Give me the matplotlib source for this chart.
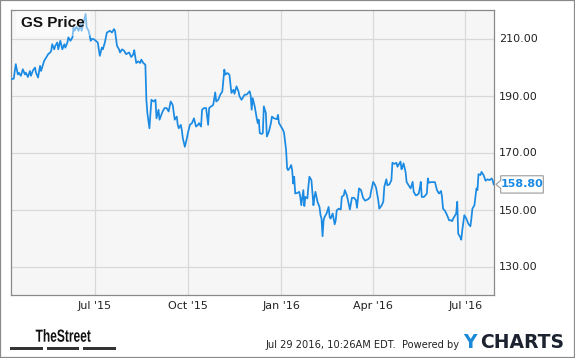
import numpy as np
import pandas as pd
import matplotlib
matplotlib.use('Agg')
import matplotlib.pyplot as plt
from matplotlib.patches import Rectangle, Polygon, PathPatch
from matplotlib.textpath import TextPath
from matplotlib.font_manager import FontProperties
from matplotlib.transforms import IdentityTransform, Affine2D

# GS daily price
dates_2015 = [
    '2015-04-09', '2015-04-12', '2015-04-14', '2015-04-16', '2015-04-17', '2015-04-19', '2015-04-21',
    '2015-04-23', '2015-04-24', '2015-04-26', '2015-04-28', '2015-04-29', '2015-05-01', '2015-05-03',
    '2015-05-04', '2015-05-06', '2015-05-08', '2015-05-09', '2015-05-12', '2015-05-14', '2015-05-16',
    '2015-05-18', '2015-05-19', '2015-05-20', '2015-05-22', '2015-05-23', '2015-05-25', '2015-05-26',
    '2015-05-28', '2015-05-30', '2015-06-01', '2015-06-02', '2015-06-04', '2015-06-05', '2015-06-07',
    '2015-06-09', '2015-06-10', '2015-06-11', '2015-06-13', '2015-06-15', '2015-06-17', '2015-06-18',
    '2015-06-20', '2015-06-22', '2015-06-23', '2015-06-25', '2015-06-27', '2015-06-28', '2015-06-30',
    '2015-07-02', '2015-07-04', '2015-07-06', '2015-07-08', '2015-07-09', '2015-07-11', '2015-07-13',
    '2015-07-16', '2015-07-18', '2015-07-20', '2015-07-21', '2015-07-23', '2015-07-25', '2015-07-26',
    '2015-07-28', '2015-07-30', '2015-08-01', '2015-08-04', '2015-08-06', '2015-08-08', '2015-08-09',
    '2015-08-11', '2015-08-13', '2015-08-15', '2015-08-16', '2015-08-18', '2015-08-20', '2015-08-21',
    '2015-08-22', '2015-08-24', '2015-08-26', '2015-08-28', '2015-08-30', '2015-08-31', '2015-09-02',
    '2015-09-03', '2015-09-06', '2015-09-08', '2015-09-10', '2015-09-12', '2015-09-14', '2015-09-16',
    '2015-09-18', '2015-09-20', '2015-09-21', '2015-09-22', '2015-09-24', '2015-09-25', '2015-09-26',
    '2015-09-28', '2015-09-30', '2015-10-01', '2015-10-03', '2015-10-05', '2015-10-07', '2015-10-09',
    '2015-10-11', '2015-10-12', '2015-10-14', '2015-10-15', '2015-10-17', '2015-10-19', '2015-10-21',
    '2015-10-22', '2015-10-24', '2015-10-26', '2015-10-28', '2015-10-29', '2015-10-31', '2015-11-02',
    '2015-11-04', '2015-11-06', '2015-11-07', '2015-11-09', '2015-11-11', '2015-11-13', '2015-11-15',
    '2015-11-16', '2015-11-18', '2015-11-20', '2015-11-21', '2015-11-23', '2015-11-25', '2015-11-26',
    '2015-11-28', '2015-12-01', '2015-12-02', '2015-12-03', '2015-12-04', '2015-12-06', '2015-12-08',
    '2015-12-09', '2015-12-10', '2015-12-11', '2015-12-13', '2015-12-14', '2015-12-15', '2015-12-17',
    '2015-12-18', '2015-12-20', '2015-12-22', '2015-12-23', '2015-12-25', '2015-12-28', '2015-12-29',
    '2015-12-30',
]
price_2015 = [
    195.7, 195.9, 201.0, 197.4, 198.0, 196.9, 199.2,
    197.4, 198.0, 196.5, 198.6, 196.9, 198.8, 199.8,
    198.0, 196.3, 200.4, 198.6, 202.1, 203.3, 204.5,
    205.1, 205.7, 208.0, 206.2, 207.4, 208.6, 206.2,
    209.2, 206.2, 208.0, 206.8, 208.6, 210.4, 209.2,
    210.4, 213.9, 212.7, 214.1, 212.7, 215.0, 212.7,
    215.6, 218.6, 213.9, 212.7, 209.2, 209.8, 209.8,
    209.2, 208.6, 203.9, 206.8, 206.2, 208.6, 212.1,
    212.7, 212.1, 213.3, 212.7, 207.4, 206.2, 205.1,
    206.2, 205.7, 204.5, 205.1, 203.5, 204.4, 205.9,
    201.4, 202.0, 201.4, 202.6, 201.4, 200.8, 188.5,
    183.8, 178.5, 188.5, 187.9, 188.5, 182.0, 185.0,
    181.5, 184.4, 185.6, 185.6, 184.4, 187.9, 186.7,
    181.5, 182.6, 179.7, 178.5, 179.7, 177.9, 175.0,
    172.0, 175.0, 176.8, 179.7, 180.3, 182.0, 179.1,
    179.7, 180.3, 179.1, 185.0, 185.6, 185.6, 179.7,
    185.6, 186.2, 186.7, 191.1, 187.9, 188.5, 190.3,
    191.4, 199.1, 197.3, 197.9, 197.3, 190.9, 192.0,
    190.6, 193.2, 191.4, 189.7, 188.5, 189.7, 190.3,
    190.3, 191.5, 190.0, 185.0, 189.1, 186.2, 182.0,
    180.3, 181.5, 176.8, 176.5, 176.8, 186.2, 183.8,
    175.6, 177.3, 180.3, 182.6, 182.0, 181.7, 183.2,
    180.3,
]
dates_2016 = [
    '2016-01-01', '2016-01-03', '2016-01-04', '2016-01-06', '2016-01-07', '2016-01-08', '2016-01-10',
    '2016-01-11', '2016-01-12', '2016-01-13', '2016-01-14', '2016-01-15', '2016-01-17', '2016-01-19',
    '2016-01-20', '2016-01-21', '2016-01-23', '2016-01-24', '2016-01-25', '2016-01-27', '2016-01-28',
    '2016-01-29', '2016-01-31', '2016-02-02', '2016-02-03', '2016-02-04', '2016-02-06', '2016-02-08',
    '2016-02-09', '2016-02-10', '2016-02-11', '2016-02-12', '2016-02-13', '2016-02-15', '2016-02-17',
    '2016-02-18', '2016-02-19', '2016-02-21', '2016-02-23', '2016-02-24', '2016-02-25', '2016-02-27',
    '2016-02-29', '2016-03-01', '2016-03-03', '2016-03-04', '2016-03-06', '2016-03-07', '2016-03-09',
    '2016-03-11', '2016-03-13', '2016-03-15', '2016-03-16', '2016-03-18', '2016-03-20', '2016-03-22',
    '2016-03-24', '2016-03-27', '2016-03-29', '2016-03-30', '2016-04-01', '2016-04-03', '2016-04-04',
    '2016-04-06', '2016-04-07', '2016-04-09', '2016-04-11', '2016-04-12', '2016-04-14', '2016-04-15',
    '2016-04-17', '2016-04-19', '2016-04-20', '2016-04-22', '2016-04-24', '2016-04-25', '2016-04-26',
    '2016-04-28', '2016-04-29', '2016-04-30', '2016-05-01', '2016-05-03', '2016-05-04', '2016-05-06',
    '2016-05-08', '2016-05-10', '2016-05-11', '2016-05-13', '2016-05-14', '2016-05-16', '2016-05-17',
    '2016-05-18', '2016-05-19', '2016-05-21', '2016-05-22', '2016-05-24', '2016-05-25', '2016-05-26',
    '2016-05-28', '2016-05-30', '2016-06-01', '2016-06-03', '2016-06-05', '2016-06-07', '2016-06-08',
    '2016-06-09', '2016-06-11', '2016-06-13', '2016-06-15', '2016-06-17', '2016-06-18', '2016-06-19',
    '2016-06-21', '2016-06-22', '2016-06-23', '2016-06-24', '2016-06-26', '2016-06-27', '2016-06-28',
    '2016-06-30', '2016-07-02', '2016-07-04', '2016-07-06', '2016-07-07', '2016-07-08', '2016-07-10',
    '2016-07-12', '2016-07-13', '2016-07-14', '2016-07-16', '2016-07-17', '2016-07-19', '2016-07-21',
    '2016-07-23', '2016-07-25', '2016-07-27', '2016-07-28', '2016-07-29',
]
price_2016 = [
    179.1, 177.9, 176.8, 170.9, 164.4, 163.8, 164.8,
    165.6, 163.8, 159.1, 161.5, 155.6, 155.8, 156.2,
    154.4, 151.5, 156.8, 151.2, 154.4, 153.9, 158.0,
    161.5, 160.3, 151.5, 154.4, 156.2, 152.7, 150.9,
    148.0, 146.8, 140.6, 146.2, 147.4, 148.6, 150.9,
    147.4, 146.8, 148.6, 144.8, 146.2, 149.7, 150.3,
    150.0, 154.4, 155.0, 156.8, 155.0, 153.3, 150.0,
    154.1, 154.1, 153.3, 150.6, 157.4, 156.8, 154.1,
    153.1, 153.6, 154.4, 156.5, 159.7, 158.5, 157.4,
    153.3, 150.3, 151.2, 152.7, 158.0, 160.6, 158.5,
    158.8, 160.3, 166.4, 166.0, 166.4, 165.0, 165.6,
    166.8, 164.1, 165.0, 166.2, 163.2, 159.7, 158.5,
    157.4, 159.7, 156.2, 155.0, 155.0, 155.6, 157.4,
    159.7, 154.4, 154.4, 154.7, 155.6, 160.9, 159.4,
    159.6, 159.6, 159.6, 156.8, 155.6, 156.5, 154.4,
    150.3, 149.5, 148.0, 146.2, 146.2, 145.9, 146.8,
    148.0, 148.6, 152.7, 141.5, 140.3, 139.4, 142.7,
    148.0, 146.8, 145.0, 144.1, 146.8, 150.3, 151.5,
    157.4, 156.8, 162.4, 162.1, 163.2, 162.1, 160.1,
    160.6, 160.3, 160.9, 160.3, 158.8,
]

y_ticks = [130, 150, 170, 190, 210]
x_ticks = ['2015-07-01', '2015-10-01', '2016-01-01', '2016-04-01', '2016-07-01']
x_tick_labels = ["Jul '15", "Oct '15", "Jan '16", "Apr '16", "Jul '16"]
last_price = 158.80

W, H = 575, 358
line_color = '#1a8ae3'

dates = pd.to_datetime(dates_2015 + dates_2016)
prices = np.array(price_2015 + price_2016)

fig = plt.figure(figsize=(W / 100, H / 100), dpi=100)
fig.patch.set_facecolor('white')

# plot area in pixel coords of the reference
left, right, top, bottom = 10.7, 494, 10, 295
ax = fig.add_axes([left / W, 1 - bottom / H, (right - left) / W, (bottom - top) / H])
ax.set_facecolor('#f6f6f6')
ax.plot(dates, prices, color=line_color, lw=1.25, zorder=3)

ax.set_xlim(pd.Timestamp('2015-04-09'), pd.Timestamp('2016-07-29 08:00'))
ax.set_ylim(120, 220)
ax.set_yticks(y_ticks)
ax.set_yticklabels([f'{v:.2f}' for v in y_ticks])
ax.yaxis.tick_right()
ax.set_xticks(pd.to_datetime(x_ticks))
ax.set_xticklabels(x_tick_labels)
ax.tick_params(axis='both', length=0, labelsize=8, colors='#222')
ax.tick_params(axis='y', pad=3.6)
ax.tick_params(axis='x', pad=4.3)
ax.grid(True, color='#d9d9d9', lw=0.9)
ax.set_axisbelow(True)
for s in ax.spines.values():
    s.set_color('#8a8a8a')
    s.set_linewidth(0.9)

# title inside the plot
ax.text(0.022, 0.953, 'GS Price', transform=ax.transAxes, fontsize=11, fontweight='bold',
        family=['Liberation Sans', 'DejaVu Sans'], color='#111', va='center', ha='left', zorder=5,
        bbox=dict(boxstyle='square,pad=0.35', fc='white', ec='none', alpha=0.45))

# last value tag with a small pointer
fig.canvas.draw()
yc = ax.transData.transform((0, last_price))[1]
bx0, bx1, bh = 500.7, 543.3, 17.3
tip = 496
pts = [(bx0, yc - bh / 2), (bx1, yc - bh / 2), (bx1, yc + bh / 2), (bx0, yc + bh / 2),
       (bx0, yc + 4), (tip, yc), (bx0, yc - 4)]
fig.patches.append(Polygon(pts, closed=True, fc='white', ec='#9a9a9a', lw=0.8,
                           transform=IdentityTransform(), figure=fig))
fig.text((bx0 + bx1) / 2 / W, yc / H, f'{last_price:.2f}', ha='center', va='center',
         fontsize=8, fontweight='bold', color=line_color)

# footer: TheStreet logo, a condensed bold word drawn as a squeezed path
logo = TextPath((0, 0), 'TheStreet', size=17.5,
                prop=FontProperties(family=['Liberation Sans', 'DejaVu Sans'], weight='bold'))
ext = logo.get_extents()
sx = 55 / ext.width
logo_tf = Affine2D().translate(-ext.x0, 0).scale(sx, 1).translate(35.7, H - 341.7)
fig.patches.append(PathPatch(logo_tf.transform_path(logo), fc='#111', ec='none',
                             transform=IdentityTransform(), figure=fig))
for x0, x1 in [(10, 42.7), (46.7, 79.3), (83.3, 116)]:
    fig.patches.append(Rectangle((x0 / W, 1 - 350 / H), (x1 - x0) / W, 3 / H,
                                 transform=fig.transFigure, fc='#333', ec='none', figure=fig))

# footer: timestamp and YCharts logo
fig.text(460 / W, 1 - 345 / H, 'Jul 29 2016, 10:26AM EDT.  Powered by', fontsize=7.1,
         color='#222', ha='right', va='center')
fig.text(463 / W, 1 - 342 / H, 'Y', fontsize=13.5, fontweight='bold', color='#1a8ad8',
         ha='left', va='center')
fig.text(480 / W, 1 - 342 / H, 'CHARTS', fontsize=13.5, fontweight='bold', color='#1c2230',
         ha='left', va='center')

# outer frame
fig.patches.append(Rectangle((0, 0), 1, 1, transform=fig.transFigure, fill=False,
                             ec='#8a8a8a', lw=1.6, figure=fig))

fig.savefig('out.png', dpi=100)
